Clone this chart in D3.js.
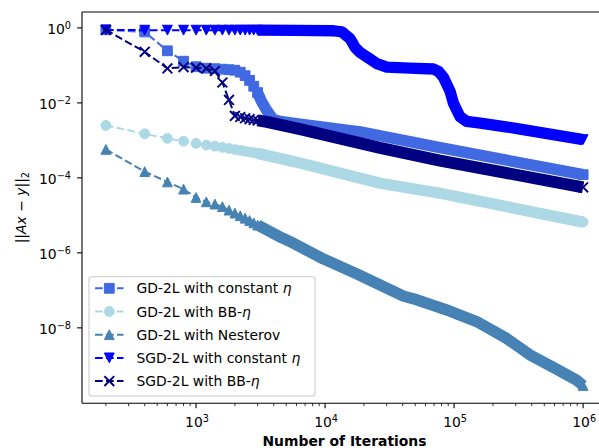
<!DOCTYPE html>
<html>
<head>
<meta charset="utf-8">
<script src="https://cdn.jsdelivr.net/npm/d3@7/dist/d3.min.js"></script>
<style>
  body { margin: 0; background: #fff; }
  text { font-family: "DejaVu Sans", sans-serif; fill: #000; }
</style>
</head>
<body>
<svg id="chart" width="599" height="448"></svg>
<script>
// ---- data: residual ||Ax - y||_2 per iteration (logged every 200 iterations) ----
const iterEarly = [200, 400, 600, 800, 1000, 1200, 1400, 1600, 1800, 2000, 2200, 2400, 2600, 2800, 3000];

const gdConstEarly = [0.89, 0.78, 0.245, 0.129, 0.092, 0.084, 0.0815, 0.079, 0.0766, 0.0743, 0.0658, 0.0531, 0.0398, 0.0278, 0.0188];
const gdConstTailIter = [3230, 3530, 3970, 4500, 6400, 18700, 77800, 1000000];
const gdConstTail = [0.0106, 0.0063, 0.0036, 0.0032, 0.00273, 0.0017, 0.00064, 0.000122];

const gdBBEarly = [0.0025, 0.0015, 0.00113, 0.00095, 0.00083, 0.00075, 0.00070, 0.00065, 0.00061, 0.00057, 0.00054, 0.00051, 0.00049, 0.00047, 0.00045];
const gdBBTailIter = [6400, 26700, 77800, 1000000];
const gdBBTail = [0.00025, 0.000072, 0.000039, 0.0000066];

const nesterovEarly = [5.75e-4, 1.47e-4, 7.8e-5, 5.0e-5, 3.0e-5, 2.3e-5, 2.0e-5, 1.71e-5, 1.38e-5, 1.15e-5, 9.8e-6, 8.4e-6, 7.3e-6, 6.3e-6, 5.5e-6];
const nesterovTailIter = [4640, 5350, 9700, 17600, 40500, 51400, 93100, 150000, 256000, 388000, 625000, 893000, 1000000];
const nesterovTail = [2.5e-6, 2.0e-6, 6.9e-7, 2.75e-7, 7.0e-8, 5.6e-8, 2.78e-8, 1.46e-8, 5.2e-9, 1.9e-9, 7.9e-10, 4.0e-10, 2.9e-10];

const sgdConstEarly = [0.88, 0.87, 0.87, 0.87, 0.87, 0.87, 0.87, 0.87, 0.87, 0.87, 0.87, 0.87, 0.87, 0.87, 0.87];
const sgdConstTailIter = [6000, 11600, 13500, 15600, 17100, 18700, 21000, 25200, 30100, 45000, 69200, 76000, 82700, 93100, 98800, 111000, 125000, 160000, 300000, 1000000];
const sgdConstTail = [0.86, 0.84, 0.78, 0.52, 0.30, 0.22, 0.17, 0.111, 0.090, 0.085, 0.080, 0.068, 0.048, 0.0203, 0.0098, 0.0043, 0.0032, 0.0029, 0.0021, 0.00105];

const sgdBBEarly = [0.88, 0.23, 0.083, 0.090, 0.087, 0.083, 0.071, 0.035, 0.012, 0.0045, 0.0042, 0.0039, 0.0037, 0.0035, 0.0034];
const sgdBBTailIter = [3530, 6400, 26700, 77800, 1000000];
const sgdBBTail = [0.0031, 0.0020, 0.00063, 0.00029, 0.000056];

const seriesNames = ["GD-2L with constant", "GD-2L with BB-", "GD-2L with Nesterov", "SGD-2L with constant", "SGD-2L with BB-"];
const seriesEta = [" \u03B7", "\u03B7", "", " \u03B7", "\u03B7"];
const seriesColors = ["#4169e1", "#add8e6", "#4682b4", "#0000ff", "#000080"];
const seriesMarkers = ["square", "circle", "triangleUp", "triangleDown", "cross"];

const xTickExps = [3, 4, 5, 6];
const yTickExps = [0, -2, -4, -6, -8];

// ---- assemble series ----
function build(early, tailIter, tail) {
  return iterEarly.map((it, k) => ({ it, v: early[k] }))
    .concat(tailIter.map((it, k) => ({ it, v: tail[k] })));
}
const series = [
  build(gdConstEarly, gdConstTailIter, gdConstTail),
  build(gdBBEarly, gdBBTailIter, gdBBTail),
  build(nesterovEarly, nesterovTailIter, nesterovTail),
  build(sgdConstEarly, sgdConstTailIter, sgdConstTail),
  build(sgdBBEarly, sgdBBTailIter, sgdBBTail)
].map((pts, k) => ({ pts, name: seriesNames[k], eta: seriesEta[k], color: seriesColors[k], marker: seriesMarkers[k] }));

// ---- layout ----
const svg = d3.select("#chart");
const L = 82, T = 12, B = 403.3, R = 607;   // axes box (right side runs past the canvas)

const allIt = series.flatMap(s => s.pts.map(p => p.it));
const allV = series.flatMap(s => s.pts.map(p => p.v));
function logPad(lo, hi) {
  const a = Math.log10(lo), b = Math.log10(hi), m = (b - a) * 0.05;
  return [Math.pow(10, a - m), Math.pow(10, b + m)];
}
const x = d3.scaleLog().domain(logPad(d3.min(allIt), d3.max(allIt))).range([L, R]);
const y = d3.scaleLog().domain(logPad(d3.min(allV), d3.max(allV))).range([B, T]);

svg.append("defs").append("clipPath").attr("id", "plotClip")
  .append("rect").attr("x", L).attr("y", T).attr("width", R - L).attr("height", B - T);

const plot = svg.append("g").attr("clip-path", "url(#plotClip)");

// marker shapes
const H = 4.9;
function markerPath(kind, s) {
  switch (kind) {
    case "square": return `M${-s},${-s}H${s}V${s}H${-s}Z`;
    case "circle": return d3.symbol(d3.symbolCircle, Math.PI * s * s)();
    case "triangleUp": return `M0,${-s}L${s},${s}L${-s},${s}Z`;
    case "triangleDown": return `M0,${s}L${s},${-s}L${-s},${-s}Z`;
    case "cross": return `M${-s},${-s}L${s},${s}M${-s},${s}L${s},${-s}`;
  }
}
function drawMarker(sel, kind, color, s) {
  const p = sel.append("path").attr("d", markerPath(kind, s));
  if (kind === "cross") p.attr("fill", "none").attr("stroke", color).attr("stroke-width", 1.9);
  else p.attr("fill", color).attr("stroke", color).attr("stroke-width", 1).attr("stroke-linejoin", "miter");
  return p;
}

const line = d3.line().x(d => x(d.it)).y(d => y(d.v));
const denseFrom = 3000;   // past this, markers overlap into one continuous band

series.forEach(s => {
  const g = plot.append("g");
  // dashed connecting line
  g.append("path").attr("d", line(s.pts))
    .attr("fill", "none").attr("stroke", s.color)
    .attr("stroke-width", 2).attr("stroke-dasharray", "7.7,3.3");
  // dense region drawn as a solid band of marker width
  const dense = s.pts.filter(p => p.it >= denseFrom);
  g.append("path").attr("d", line(dense))
    .attr("fill", "none").attr("stroke", s.color)
    .attr("stroke-width", s.marker === "cross" ? 12 : 11.3)
    .attr("stroke-linejoin", "round").attr("stroke-linecap", "butt");
  // individual markers: sparse early points plus the final point
  const last = s.pts[s.pts.length - 1];
  s.pts.filter(p => p.it <= denseFrom || p === last).forEach(p => {
    drawMarker(g.append("g").attr("transform", `translate(${x(p.it)},${y(p.v)})`), s.marker, s.color, H);
  });
});

// ---- axes ----
const axes = svg.append("g");
axes.append("line").attr("x1", L).attr("x2", L).attr("y1", T).attr("y2", B).attr("stroke", "#000").attr("stroke-width", 1.1);
axes.append("line").attr("x1", L).attr("x2", R).attr("y1", B).attr("y2", B).attr("stroke", "#000").attr("stroke-width", 1.1);
axes.append("line").attr("x1", L).attr("x2", R).attr("y1", T).attr("y2", T).attr("stroke", "#000").attr("stroke-width", 1.1);
axes.append("line").attr("x1", R).attr("x2", R).attr("y1", T).attr("y2", B).attr("stroke", "#000").attr("stroke-width", 1.1);

function supLabel(sel, base, exp) {
  sel.append("tspan").text(base);
  sel.append("tspan").attr("dy", -5).style("font-size", "9.7px")
    .text(exp < 0 ? "\u2212" + (-exp) : String(exp));
}

// x major ticks
xTickExps.forEach(e => {
  const px = x(Math.pow(10, e));
  axes.append("line").attr("x1", px).attr("x2", px).attr("y1", B).attr("y2", B + 4.9)
    .attr("stroke", "#000").attr("stroke-width", 1.1);
  const t = axes.append("text").attr("x", px + 1).attr("y", 426.5)
    .attr("text-anchor", "middle").style("font-size", "13.9px");
  supLabel(t, "10", e);
});
// x minor ticks
const [xd0, xd1] = x.domain();
for (let e = Math.floor(Math.log10(xd0)); e <= Math.ceil(Math.log10(xd1)); e++) {
  for (let m = 2; m <= 9; m++) {
    const v = m * Math.pow(10, e);
    if (v < xd0 || v > xd1) continue;
    const px = x(v);
    axes.append("line").attr("x1", px).attr("x2", px).attr("y1", B).attr("y2", B + 2.8)
      .attr("stroke", "#000").attr("stroke-width", 0.8);
  }
}
// y major ticks
yTickExps.forEach(e => {
  const py = y(Math.pow(10, e));
  axes.append("line").attr("x1", L - 4.9).attr("x2", L).attr("y1", py).attr("y2", py)
    .attr("stroke", "#000").attr("stroke-width", 1.1);
  const t = axes.append("text").attr("x", 71).attr("y", py + 6.3)
    .attr("text-anchor", "end").style("font-size", "13.9px");
  supLabel(t, "10", e);
});

// axis titles
svg.append("text").attr("x", (L + R) / 2).attr("y", 445.5)
  .attr("text-anchor", "middle").style("font-size", "13.9px").style("font-weight", "bold")
  .text("Number of Iterations");

const yl = svg.append("text").attr("transform", `translate(26,${(T + B) / 2}) rotate(-90)`)
  .attr("text-anchor", "middle").style("font-size", "13.9px");
yl.append("tspan").text("||");
yl.append("tspan").style("font-style", "italic").text("Ax");
yl.append("tspan").text(" \u2212 ");
yl.append("tspan").style("font-style", "italic").text("y");
yl.append("tspan").text("||");
yl.append("tspan").attr("dy", 3).style("font-size", "9.7px").text("2");

// ---- legend ----
const lg = svg.append("g");
const lgX = 89, lgY = 276.7, rowH = 23.2;
lg.append("rect").attr("x", lgX).attr("y", lgY).attr("width", 226).attr("height", 119.3)
  .attr("rx", 2.8).attr("fill", "#fff").attr("fill-opacity", 0.8)
  .attr("stroke", "#cccccc").attr("stroke-width", 1.1);
series.forEach((s, k) => {
  const cy = 288.3 + k * rowH;
  lg.append("line").attr("x1", 95).attr("x2", 123.5).attr("y1", cy).attr("y2", cy)
    .attr("stroke", s.color).attr("stroke-width", 2).attr("stroke-dasharray", "7.7,3.3");
  drawMarker(lg.append("g").attr("transform", `translate(109.3,${cy})`), s.marker, s.color, H);
  const t = lg.append("text").attr("x", 136.5).attr("y", cy + 5).style("font-size", "13.9px");
  t.append("tspan").text(s.name);
  if (s.eta) {
    if (s.eta.startsWith(" ")) t.append("tspan").text(" ");
    t.append("tspan").style("font-style", "italic").text("\u03B7");
  }
});
</script>
</body>
</html>
